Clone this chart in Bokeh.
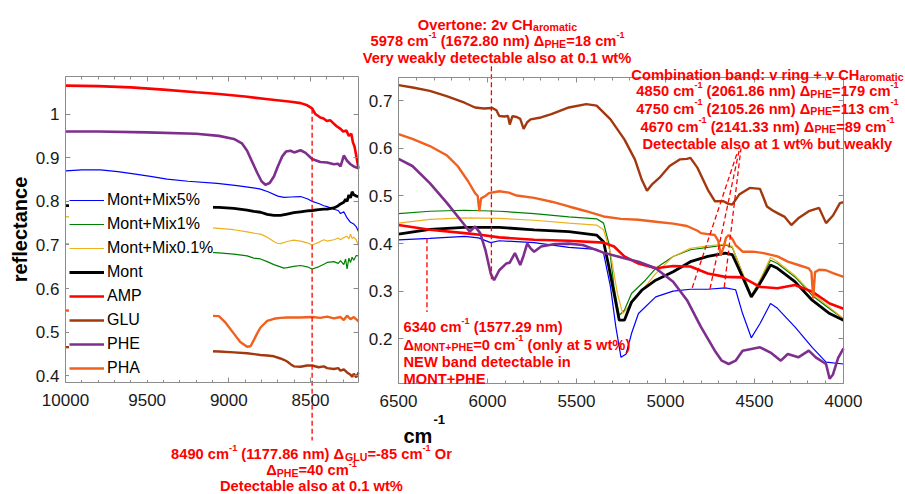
import math
from bokeh.plotting import figure
from bokeh.models import (Range1d, LinearAxis, SingleIntervalTicker, CustomJSTickFormatter,
                          BasicTickFormatter, Label, Legend, LegendItem)
from bokeh.embed import file_html
from bokeh.resources import INLINE

FONT = "Liberation Sans"
RED = "#ff0000"
AXC = "#8c8c8c"

# ---------------- data: left panel (cm-1, reflectance) ----------------
L_MIX5 = [(10000,0.870),(9900,0.872),(9786,0.872),(9680,0.868),(9582,0.863),(9480,0.857),(9378,0.851),
          (9250,0.846),(9071,0.841),(8950,0.836),(8850,0.831),(8806,0.828),(8760,0.822),(8700,0.812),
          (8663,0.809),(8620,0.810),(8561,0.811),(8520,0.806),(8490,0.800),(8450,0.795),(8418,0.790),
          (8398,0.788),(8357,0.782),(8330,0.779),(8316,0.772),(8296,0.776),(8276,0.762),(8255,0.752),
          (8235,0.748),(8220,0.742),(8206,0.731)]
L_MIX1 = [(10000,0.702),(9500,0.692),(9061,0.682),(8969,0.679),(8888,0.675),(8847,0.670),(8806,0.668),
          (8765,0.662),(8724,0.655),(8684,0.650),(8663,0.647),(8643,0.648),(8602,0.651),(8561,0.653),
          (8520,0.650),(8490,0.645),(8450,0.650),(8418,0.656),(8398,0.660),(8357,0.662),(8330,0.658),
          (8316,0.664),(8296,0.655),(8285,0.668),(8276,0.645),(8265,0.670),(8255,0.660),(8245,0.672),
          (8235,0.665),(8220,0.676),(8206,0.675)]
L_MIX01 = [(10000,0.765),(9500,0.750),(9061,0.738),(8969,0.735),(8888,0.730),(8847,0.727),(8806,0.725),
           (8765,0.718),(8724,0.708),(8704,0.704),(8684,0.703),(8643,0.708),(8602,0.711),(8561,0.709),
           (8520,0.705),(8490,0.700),(8450,0.706),(8418,0.712),(8398,0.709),(8357,0.712),(8330,0.716),
           (8316,0.712),(8296,0.717),(8276,0.720),(8265,0.714),(8255,0.725),(8245,0.715),(8235,0.718),
           (8220,0.712),(8206,0.698)]
L_MONT = [(10000,0.790),(9500,0.788),(9061,0.786),(8969,0.784),(8888,0.780),(8847,0.777),(8806,0.775),
          (8765,0.770),(8724,0.768),(8684,0.768),(8643,0.771),(8602,0.774),(8561,0.776),(8520,0.778),
          (8490,0.779),(8450,0.781),(8418,0.782),(8398,0.782),(8357,0.785),(8330,0.790),(8316,0.794),
          (8296,0.798),(8285,0.805),(8276,0.800),(8265,0.815),(8255,0.808),(8245,0.822),(8235,0.815),
          (8220,0.812),(8206,0.811)]
L_AMP = [(10000,1.065),(9800,1.064),(9600,1.061),(9400,1.056),(9200,1.050),(9061,1.046),(8900,1.040),
         (8760,1.034),(8620,1.028),(8560,1.025),(8520,1.020),(8490,1.013),(8470,1.000),(8440,0.992),
         (8420,0.990),(8400,0.984),(8380,0.986),(8357,0.978),(8340,0.972),(8316,0.966),(8300,0.960),
         (8280,0.962),(8265,0.950),(8250,0.955),(8240,0.935),(8230,0.925),(8220,0.905),(8206,0.875)]
L_GLU = [(10000,0.466),(9500,0.461),(9061,0.456),(8969,0.454),(8888,0.452),(8806,0.448),(8765,0.447),
         (8724,0.445),(8684,0.440),(8663,0.437),(8643,0.433),(8622,0.427),(8602,0.422),(8561,0.421),
         (8520,0.424),(8490,0.424),(8450,0.420),(8418,0.422),(8398,0.418),(8357,0.416),(8330,0.418),
         (8316,0.412),(8296,0.415),(8276,0.408),(8255,0.403),(8245,0.398),(8235,0.405),(8220,0.397),
         (8206,0.408)]
L_PHE = [(10000,0.960),(9800,0.960),(9500,0.958),(9200,0.955),(9061,0.950),(8969,0.943),(8920,0.933),
         (8888,0.916),(8860,0.893),(8827,0.866),(8800,0.846),(8776,0.838),(8750,0.842),(8724,0.857),
         (8700,0.880),(8673,0.903),(8650,0.914),(8622,0.916),(8600,0.912),(8561,0.917),(8530,0.911),
         (8490,0.897),(8440,0.890),(8398,0.889),(8357,0.885),(8330,0.886),(8316,0.880),(8296,0.905),
         (8276,0.893),(8255,0.885),(8235,0.880),(8206,0.876)]
L_PHA = [(10000,0.550),(9500,0.545),(9061,0.537),(9020,0.522),(8969,0.497),(8930,0.478),(8888,0.467),
         (8867,0.468),(8847,0.482),(8827,0.497),(8806,0.511),(8765,0.526),(8724,0.531),(8684,0.533),
         (8643,0.534),(8602,0.534),(8561,0.534),(8490,0.535),(8440,0.533),(8398,0.536),(8357,0.532),
         (8316,0.535),(8296,0.528),(8276,0.538),(8255,0.530),(8235,0.535),(8206,0.525)]

# ---------------- data: right panel ----------------
R_MIX5 = [(6500,0.408),(6324,0.411),(6129,0.415),(6051,0.412),(5982,0.402),(5934,0.406),(5738,0.402),
          (5543,0.392),(5387,0.388),(5348,0.380),(5309,0.309),(5279,0.225),(5250,0.161),(5221,0.168),
          (5191,0.211),(5152,0.253),(5055,0.288),(4957,0.300),(4860,0.304),(4762,0.304),(4664,0.307),
          (4606,0.303),(4567,0.253),(4518,0.202),(4469,0.232),(4410,0.274),(4371,0.264),(4273,0.225),
          (4176,0.182),(4098,0.151),(4000,0.147)]
R_MIX1 = [(6500,0.463),(6324,0.468),(6129,0.470),(5934,0.468),(5738,0.463),(5543,0.456),(5387,0.452),
          (5348,0.443),(5318,0.400),(5289,0.309),(5260,0.249),(5231,0.260),(5191,0.295),(5113,0.323),
          (5055,0.348),(4957,0.373),(4860,0.387),(4762,0.392),(4664,0.397),(4625,0.392),(4567,0.337),
          (4518,0.291),(4469,0.323),(4410,0.365),(4371,0.358),(4273,0.330),(4176,0.291),(4078,0.263),
          (4000,0.242)]
R_MIX01 = [(6500,0.443),(6324,0.451),(6129,0.454),(5934,0.453),(5738,0.449),(5543,0.443),(5387,0.439),
           (5348,0.429),(5309,0.380),(5270,0.295),(5240,0.253),(5201,0.270),(5152,0.292),(5055,0.337),
           (4957,0.373),(4860,0.390),(4762,0.395),(4664,0.399),(4625,0.394),(4567,0.337),(4518,0.291),
           (4469,0.323),(4410,0.371),(4371,0.362),(4273,0.333),(4176,0.295),(4078,0.266),(4000,0.242)]
R_MONT = [(6500,0.420),(6324,0.430),(6129,0.434),(5934,0.434),(5738,0.429),(5543,0.425),(5387,0.418),
          (5348,0.404),(5318,0.351),(5289,0.295),(5260,0.239),(5231,0.239),(5191,0.277),(5133,0.302),
          (5055,0.323),(4957,0.341),(4860,0.362),(4762,0.373),(4664,0.380),(4625,0.377),(4567,0.330),
          (4518,0.288),(4479,0.310),(4410,0.355),(4371,0.348),(4273,0.320),(4176,0.281),(4078,0.253),
          (4000,0.239)]
R_AMP = [(6500,0.439),(6324,0.429),(6129,0.422),(6031,0.418),(5934,0.413),(5738,0.408),(5543,0.406),
         (5348,0.402),(5289,0.394),(5231,0.373),(5152,0.358),(5055,0.348),(4957,0.353),(4860,0.352),
         (4762,0.337),(4664,0.330),(4567,0.329),(4469,0.309),(4371,0.306),(4273,0.313),(4176,0.299),
         (4078,0.274),(4000,0.263)]
R_GLU = [(6500,0.733),(6420,0.728),(6324,0.721),(6230,0.710),(6129,0.696),(6070,0.686),(6020,0.684),
         (5973,0.685),(5950,0.680),(5934,0.668),(5905,0.667),(5885,0.668),(5875,0.650),(5860,0.668),
         (5836,0.666),(5816,0.662),(5797,0.641),(5777,0.655),(5758,0.661),(5700,0.665),(5641,0.672),
         (5543,0.686),(5445,0.693),(5387,0.690),(5309,0.661),(5231,0.619),(5172,0.577),(5133,0.534),
         (5104,0.511),(5074,0.525),(5035,0.538),(4977,0.563),(4918,0.577),(4880,0.578),(4860,0.580),
         (4820,0.559),(4762,0.513),(4723,0.489),(4674,0.489),(4650,0.484),(4625,0.482),(4586,0.503),
         (4527,0.517),(4469,0.515),(4430,0.478),(4400,0.470),(4371,0.464),(4330,0.456),(4293,0.439),
         (4254,0.453),(4195,0.468),(4137,0.475),(4098,0.443),(4059,0.459),(4020,0.485),(4000,0.487)]
R_PHE = [(6500,0.578),(6422,0.563),(6324,0.527),(6227,0.485),(6129,0.439),(6100,0.425),(6070,0.436),
         (6041,0.422),(6012,0.387),(5982,0.337),(5963,0.323),(5934,0.344),(5895,0.358),(5875,0.360),
         (5846,0.380),(5836,0.372),(5816,0.355),(5797,0.375),(5777,0.400),(5758,0.390),(5738,0.383),
         (5699,0.394),(5621,0.399),(5543,0.400),(5465,0.397),(5348,0.381),(5231,0.369),(5152,0.362),
         (5055,0.348),(4957,0.320),(4879,0.281),(4801,0.225),(4723,0.175),(4684,0.154),(4645,0.147),
         (4606,0.154),(4567,0.175),(4469,0.182),(4410,0.171),(4352,0.154),(4313,0.168),(4254,0.161),
         (4195,0.175),(4156,0.161),(4098,0.147),(4078,0.116),(4059,0.125),(4030,0.160),(4000,0.180)]
R_PHA = [(6500,0.630),(6422,0.620),(6324,0.605),(6227,0.585),(6168,0.563),(6109,0.531),(6070,0.506),
         (6055,0.500),(6046,0.468),(6036,0.495),(6012,0.500),(5992,0.506),(5934,0.510),(5880,0.507),
         (5836,0.501),(5738,0.496),(5640,0.488),(5543,0.478),(5445,0.468),(5348,0.457),(5250,0.452),
         (5152,0.450),(5055,0.446),(4957,0.442),(4880,0.437),(4820,0.427),(4801,0.422),(4762,0.420),
         (4723,0.418),(4703,0.405),(4690,0.375),(4674,0.392),(4660,0.412),(4645,0.418),(4625,0.410),
         (4606,0.397),(4567,0.383),(4508,0.383),(4449,0.380),(4371,0.373),(4313,0.362),(4254,0.355),
         (4195,0.348),(4180,0.340),(4170,0.285),(4160,0.340),(4137,0.345),(4098,0.344),(4059,0.338),
         (4000,0.330)]

NAMES = ["Mont+Mix5%", "Mont+Mix1%", "Mont+Mix0.1%", "Mont", "AMP", "GLU", "PHE", "PHA"]
COLORS = ["#0000ff", "#008000", "#edb120", "#000000", "#ff0000", "#a3380f", "#7e2f8e", "#f0601e"]
WIDTHS = [1.2, 1.2, 1.2, 2.8, 2.6, 2.4, 2.6, 2.4]
LEFT = [L_MIX5, L_MIX1, L_MIX01, L_MONT, L_AMP, L_GLU, L_PHE, L_PHA]
RIGHT = [R_MIX5, R_MIX1, R_MIX01, R_MONT, R_AMP, R_GLU, R_PHE, R_PHA]

# axis limits of the two panels
LX = (10000, 8206); LY = (0.385, 1.086)
RX = (6500, 4000); RY = (0.106, 0.749)

# canvas geometry (pixels): whole canvas is one frame, panel boxes are drawn by fixed axes
W, H = 904, 493
LBOX = (65, 358, 76, 382)   # left, right, top, bottom
RBOX = (398, 843, 77, 383)


def lin(p0, v0, p1, v1):
    s = (v1 - v0) / float(p1 - p0)
    return lambda px: v0 + (px - p0) * s


lxf = lin(LBOX[0], LX[0], LBOX[1], LX[1]); lyf = lin(LBOX[3], LY[0], LBOX[2], LY[1])
rxf = lin(RBOX[0], RX[0], RBOX[1], RX[1]); ryf = lin(RBOX[3], RY[0], RBOX[2], RY[1])

p = figure(width=W, height=H, x_range=Range1d(lxf(0), lxf(W)), y_range=Range1d(lyf(H), lyf(0)),
           extra_x_ranges={"rx": Range1d(rxf(0), rxf(W))},
           extra_y_ranges={"ry": Range1d(ryf(H), ryf(0))},
           x_axis_type=None, y_axis_type=None, min_border=0, output_backend="svg",
           toolbar_location=None, tools="")
p.title.visible = False
p.grid.visible = False
p.outline_line_color = None
p.background_fill_color = "white"
p.border_fill_color = "white"


def box_axes(xn, yn, xl, yl):
    xb = (min(xl), max(xl)); yb = (min(yl), max(yl))
    com = dict(x_range_name=xn, y_range_name=yn, axis_line_color=AXC, axis_line_width=1,
               major_tick_line_color=AXC, minor_tick_line_color=AXC, major_tick_in=5,
               major_tick_out=0, minor_tick_in=3, minor_tick_out=0,
               major_label_text_font=FONT, major_label_text_font_size="17px",
               major_label_text_color="#1a1a1a")
    blank = CustomJSTickFormatter(code="return '';")
    yfmt = CustomJSTickFormatter(code="return (Math.round(tick*10)/10).toString();")
    p.add_layout(LinearAxis(fixed_location=yl[0], bounds=xb,
                            ticker=SingleIntervalTicker(interval=500, num_minor_ticks=5),
                            formatter=BasicTickFormatter(use_scientific=False),
                            major_label_standoff=11, **com), "below")
    p.add_layout(LinearAxis(fixed_location=yl[1], bounds=xb,
                            ticker=SingleIntervalTicker(interval=500, num_minor_ticks=5),
                            formatter=blank, **com), "above")
    p.add_layout(LinearAxis(fixed_location=xl[0], bounds=yb,
                            ticker=SingleIntervalTicker(interval=0.1, num_minor_ticks=0),
                            formatter=yfmt, major_label_standoff=6, **com), "left")
    p.add_layout(LinearAxis(fixed_location=xl[1], bounds=yb,
                            ticker=SingleIntervalTicker(interval=0.1, num_minor_ticks=0),
                            formatter=blank, **com), "right")


box_axes("default", "default", LX, LY)
box_axes("rx", "ry", RX, RY)

# ---------------- curves ----------------
rl = []
for data, c, w in zip(LEFT, COLORS, WIDTHS):
    rl.append(p.line([a for a, b in data], [b for a, b in data], line_color=c, line_width=w))
for data, c, w in zip(RIGHT, COLORS, WIDTHS):
    p.line([a for a, b in data], [b for a, b in data], line_color=c, line_width=w,
           x_range_name="rx", y_range_name="ry")

legend = Legend(items=[LegendItem(label=n, renderers=[r]) for n, r in zip(NAMES, rl)],
                location=(69, H - 380), orientation="vertical", label_text_font=FONT,
                label_text_font_size="16px", label_text_color="#000000",
                glyph_width=35, glyph_height=24, label_height=24, label_standoff=3,
                spacing=0, padding=2, margin=0, border_line_color=None,
                background_fill_color="white", background_fill_alpha=1.0)
p.add_layout(legend, "center")

# ---------------- dashed marker lines ----------------
DASH = dict(line_color=RED, line_width=1.3, line_dash="5 3")
p.segment(x0=[8490], y0=[1.012], x1=[8490], y1=[lyf(440)], **DASH)
p.segment(x0=[5978, 6340, 4850, 4750, 4670], y0=[0.325, 0.411, 0.307, 0.305, 0.308],
          x1=[5978, 6340, 4596, 4586, 4576], y1=[ryf(65), 0.256, 0.592, 0.596, 0.600],
          x_range_name="rx", y_range_name="ry", **DASH)

# ---------------- texts ----------------
X0, Y0 = lxf(0), lyf(0)   # data position of the canvas top-left corner

BW = {' ': 278, '%': 889, '(': 333, ')': 333, '+': 584, '-': 333, '.': 278, ':': 333, '=': 584,
      'A': 722, 'C': 722, 'D': 722, 'E': 667, 'G': 778, 'H': 722, 'L': 611, 'M': 833, 'N': 722,
      'O': 778, 'P': 667, 'R': 722, 'T': 611, 'U': 722, 'V': 667, 'W': 944,
      'a': 556, 'b': 611, 'c': 556, 'd': 611, 'e': 556, 'g': 611, 'h': 611, 'i': 278, 'k': 556,
      'l': 278, 'm': 889, 'n': 611, 'o': 611, 'r': 389, 's': 556, 't': 333, 'u': 611, 'v': 556,
      'w': 778, 'y': 556, 'Δ': 722}
for d in "0123456789":
    BW[d] = 556


def wbold(s, size):
    return sum(BW.get(c, 600) for c in s) * size / 1000.0


def rich_line(segs, px, py, size=14.7, align="left", color=RED):
    parts = []
    for t, k in segs:
        fs = size if k == "n" else (0.72 * size if k == "b" else 0.62 * size)
        parts.append((t, k, fs, wbold(t, fs)))
    total = sum(q[3] for q in parts)
    x = px - total / 2.0 if align == "center" else px
    for t, k, fs, w in parts:
        lead = len(t) - len(t.lstrip(" "))
        dx = wbold(" " * lead, fs)
        dy = 0 if k == "n" else (-2.5 if k == "b" else 6.5)
        p.add_layout(Label(x=X0, y=Y0, x_offset=x + dx, y_offset=-py + dy, text=t.strip(),
                           text_font=FONT, text_font_size="%.2fpx" % fs, text_font_style="bold",
                           text_color=color, text_align="left", text_baseline="alphabetic"))
        x += w


# top block
rich_line([("Overtone: 2v CH", "n"), ("aromatic", "b")], 497, 24, align="center")
rich_line([("5978 cm", "n"), ("-1", "p"), (" (1672.80 nm) Δ", "n"), ("PHE", "b"),
           ("=18 cm", "n"), ("-1", "p")], 497, 40.5, align="center")
rich_line([("Very weakly detectable also at 0.1 wt%", "n")], 497, 57.5, align="center")

# combination band block
rich_line([("Combination band: v ring + v CH", "n"), ("aromatic", "b")], 767, 74, align="center")
for (wn, nm, dl), yb in zip([("4850", "2061.86", "179"), ("4750", "2105.26", "113"),
                             ("4670", "2141.33", "89")], [90.7, 108.3, 126]):
    rich_line([(wn + " cm", "n"), ("-1", "p"), (" (" + nm + " nm) Δ", "n"), ("PHE", "b"),
               ("=" + dl + " cm", "n"), ("-1", "p")], 767, yb, align="center")
rich_line([("Detectable also at 1 wt% but weakly", "n")], 767, 143.3, align="center")

# 6340 block
rich_line([("6340 cm", "n"), ("-1", "p"), (" (1577.29 nm)", "n")], 403, 326.7)
rich_line([("Δ", "n"), ("MONT+PHE", "b"), ("=0 cm", "n"), ("-1", "p"),
           (" (only at 5 wt%)", "n")], 403, 344)
rich_line([("NEW band detectable in", "n")], 403, 361.3)
rich_line([("MONT+PHE", "n")], 403, 378.3)

# 8490 block
rich_line([("8490 cm", "n"), ("-1", "p"), (" (1177.86 nm) Δ", "n"), ("GLU", "b"),
           ("=-85 cm", "n"), ("-1", "p"), (" Or", "n")], 311, 453.5, align="center")
rich_line([("Δ", "n"), ("PHE", "b"), ("=40 cm", "n"), ("-1", "p")], 311, 469.5, align="center")
rich_line([("Detectable also at 0.1 wt%", "n")], 311, 485, align="center")

# axis titles
rich_line([("cm", "n")], 403, 435, size=20, color="#000000")
p.add_layout(Label(x=X0, y=Y0, x_offset=433, y_offset=-419, text="-1", text_font=FONT,
                   text_font_size="13px", text_font_style="bold", text_color="#000000",
                   text_align="left", text_baseline="alphabetic"))
p.add_layout(Label(x=X0, y=Y0, x_offset=19, y_offset=-229, text="reflectance", angle=math.pi / 2,
                   text_font=FONT, text_font_size="20px", text_font_style="bold",
                   text_color="#000000", text_align="center", text_baseline="middle"))

open("out.html", "w").write(file_html(p, INLINE))
